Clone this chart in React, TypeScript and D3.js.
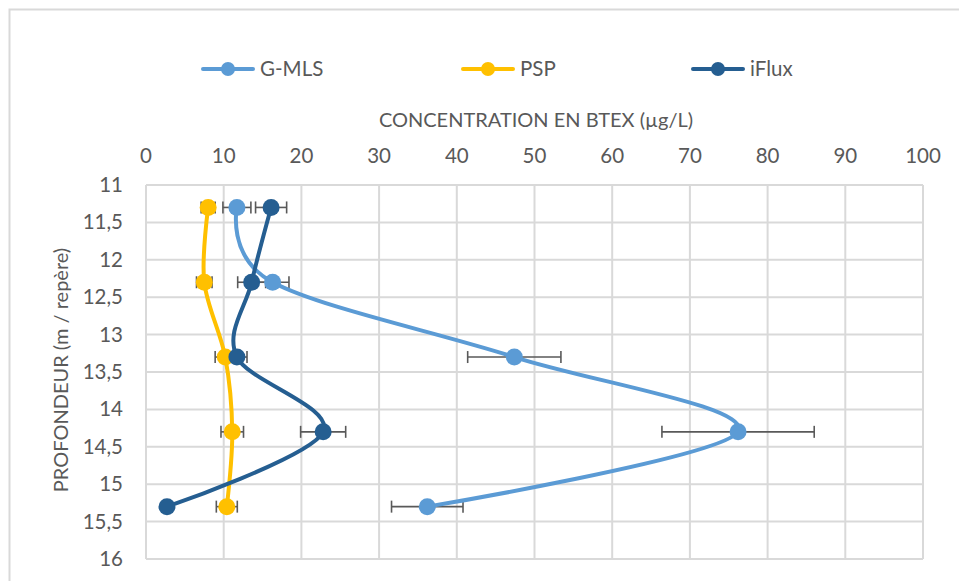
import React from 'react'
import * as d3 from 'd3'

// * Chart data
const depths = [11.3, 12.3, 13.3, 14.3, 15.3]
const gmls = [11.7, 16.3, 47.4, 76.2, 36.2]
const gmlsErr = [1.8, 2.1, 6.0, 9.8, 4.6]
const psp = [8.0, 7.5, 10.2, 11.1, 10.4]
const pspErr = [0.9, 1.0, 1.3, 1.45, 1.35]
const iflux = [16.1, 13.6, 11.7, 22.8, 2.7]
const ifluxErr = [2.0, 1.8, 1.3, 2.9, 0]
const xTicks = [0, 10, 20, 30, 40, 50, 60, 70, 80, 90, 100]
const yTicks = [11, 11.5, 12, 12.5, 13, 13.5, 14, 14.5, 15, 15.5, 16]

const seriesNames = ['G-MLS', 'PSP', 'iFlux']
const seriesColors = ['#5b9bd5', '#ffc000', '#255e91']

interface Serie {
  name: string
  color: string
  values: number[]
  errors: number[]
}

const series: Serie[] = [
  { name: seriesNames[0], color: seriesColors[0], values: gmls, errors: gmlsErr },
  { name: seriesNames[1], color: seriesColors[1], values: psp, errors: pspErr },
  { name: seriesNames[2], color: seriesColors[2], values: iflux, errors: ifluxErr },
]

const W = 959
const H = 581
const FONT = 'Lato, Carlito, Calibri, sans-serif'
const TXT = '#595959'

export default function App() {
  const margin = { top: 185, left: 146, right: W - 923, bottom: H - 559 }
  const x = d3.scaleLinear().domain([0, 100]).range([margin.left, W - margin.right])
  const y = d3.scaleLinear().domain([11, 16]).range([margin.top, H - margin.bottom])

  // * Excel-style smoothed line
  const line = d3
    .line<[number, number]>()
    .x((d) => x(d[0]))
    .y((d) => y(d[1]))
    .curve(d3.curveCatmullRom.alpha(0))

  const legendX = [203, 463, 693]

  return (
    <svg
      width={W}
      height={H}
      style={{ position: 'absolute', left: 0, top: 0, background: '#fff' }}
      fontFamily={FONT}
    >
      {/* outer chart border, cut off on right & bottom */}
      <rect x={9.5} y={9.5} width={W + 20} height={H + 20} fill="#fff" stroke="#d9d9d9" strokeWidth={2} />

      {/* grid */}
      {xTicks.map((t) => (
        <line key={'gx' + t} x1={x(t)} x2={x(t)} y1={y(11)} y2={y(16)} stroke="#d9d9d9" strokeWidth={2} />
      ))}
      {yTicks.map((t) => (
        <line key={'gy' + t} x1={x(0)} x2={x(100)} y1={y(t)} y2={y(t)} stroke="#d9d9d9" strokeWidth={2} />
      ))}

      {/* x tick labels (top) */}
      {xTicks.map((t) => (
        <text key={'tx' + t} x={x(t)} y={163} textAnchor="middle" fontSize={20.5} fill={TXT}>
          {t}
        </text>
      ))}
      {/* y tick labels */}
      {yTicks.map((t) => (
        <text key={'ty' + t} x={123} y={y(t) + 7} textAnchor="end" fontSize={20.5} fill={TXT}>
          {String(t).replace('.', ',')}
        </text>
      ))}

      {/* axis titles */}
      <text x={536} y={127} textAnchor="middle" fontSize={20} fill={TXT}>
        CONCENTRATION EN BTEX (µg/L)
      </text>
      <text
        transform={`translate(68, ${(y(11) + y(16)) / 2 - 2}) rotate(-90)`}
        textAnchor="middle"
        fontSize={20}
        fill={TXT}
      >
        PROFONDEUR (m / repère)
      </text>

      {/* error bars */}
      {series.map((s) =>
        s.values.map((v, i) =>
          s.errors[i] > 0 ? (
            <g key={s.name + 'e' + i} stroke="#595959" strokeWidth={1.6}>
              <line x1={x(v - s.errors[i])} x2={x(v + s.errors[i])} y1={y(depths[i])} y2={y(depths[i])} />
              <line x1={x(v - s.errors[i])} x2={x(v - s.errors[i])} y1={y(depths[i]) - 6} y2={y(depths[i]) + 6} />
              <line x1={x(v + s.errors[i])} x2={x(v + s.errors[i])} y1={y(depths[i]) - 6} y2={y(depths[i]) + 6} />
            </g>
          ) : null,
        ),
      )}

      {/* lines + markers */}
      {series.map((s) => (
        <g key={s.name}>
          <path
            d={line(s.values.map((v, i) => [v, depths[i]] as [number, number])) || ''}
            fill="none"
            stroke={s.color}
            strokeWidth={4}
            strokeLinecap="round"
          />
          {s.values.map((v, i) => (
            <circle key={i} cx={x(v)} cy={y(depths[i])} r={8.5} fill={s.color} />
          ))}
        </g>
      ))}

      {/* legend */}
      {series.map((s, i) => (
        <g key={'lg' + s.name}>
          <line x1={legendX[i]} x2={legendX[i] + 50} y1={69} y2={69} stroke={s.color} strokeWidth={4} strokeLinecap="round" />
          <circle cx={legendX[i] + 25} cy={69} r={7} fill={s.color} />
          <text x={legendX[i] + 57} y={76} fontSize={20.5} fill={TXT}>
            {s.name}
          </text>
        </g>
      ))}
    </svg>
  )
}
